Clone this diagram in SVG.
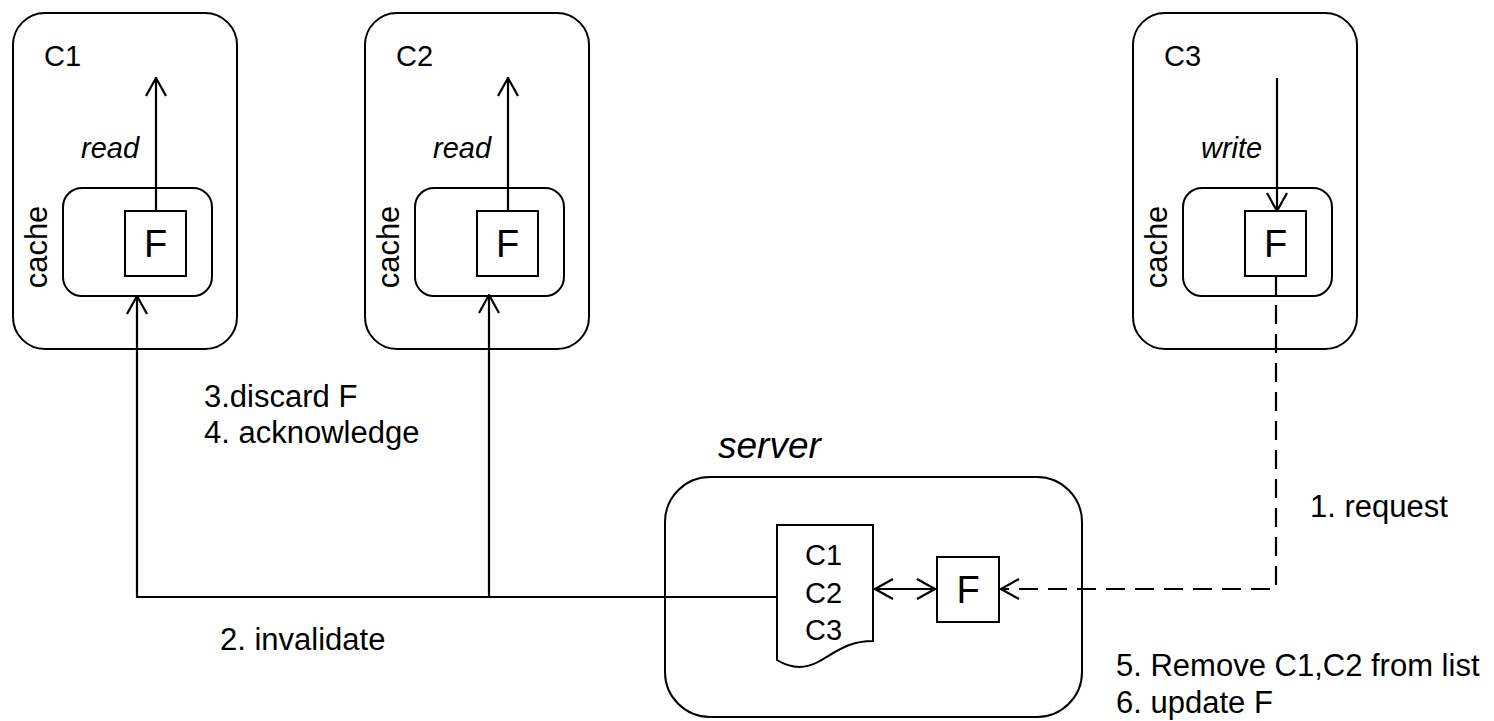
<svg xmlns="http://www.w3.org/2000/svg" width="1494" height="721" viewBox="0 0 1494 721">
<defs>
<style>
.box{fill:#fff;stroke:#000;stroke-width:2}
.ln{fill:none;stroke:#000;stroke-width:2.2}
.dash{fill:none;stroke:#000;stroke-width:2.2;stroke-dasharray:19,10}
.t{font-family:"Liberation Sans",Arial,sans-serif;font-size:29px;fill:#000}
.lb{font-size:31px}
.i{font-style:italic}
.f{font-size:38px;text-anchor:middle}
</style>
<marker id="ah" viewBox="0 0 20 22" refX="19" refY="11" markerWidth="20" markerHeight="22" markerUnits="userSpaceOnUse" orient="auto-start-reverse">
<path d="M1,1 L19,11 L1,21" fill="none" stroke="#000" stroke-width="2.2"/>
</marker>
</defs>
<rect width="1494" height="721" fill="#fff"/>

<g id="c1">
<rect class="box" x="13" y="13" width="224" height="336" rx="32"/>
<text class="t" x="44" y="66">C1</text>
<text class="t i" x="81" y="158">read</text>
<rect class="box" x="63" y="188" width="149" height="108" rx="19"/>
<text class="t lb" transform="translate(47,247) rotate(-90)" text-anchor="middle">cache</text>
<rect class="box" x="125" y="211" width="61" height="65"/>
<text class="t f" x="155.5" y="257">F</text>
</g>

<g id="c2">
<rect class="box" x="365" y="13" width="224" height="336" rx="32"/>
<text class="t" x="396" y="66">C2</text>
<text class="t i" x="433" y="158">read</text>
<rect class="box" x="415" y="188" width="149" height="108" rx="19"/>
<text class="t lb" transform="translate(399,247) rotate(-90)" text-anchor="middle">cache</text>
<rect class="box" x="477" y="211" width="61" height="65"/>
<text class="t f" x="507.5" y="257">F</text>
</g>

<g id="c3">
<rect class="box" x="1133" y="13" width="224" height="336" rx="32"/>
<text class="t" x="1164" y="66">C3</text>
<text class="t i" x="1201" y="158">write</text>
<rect class="box" x="1183" y="188" width="149" height="108" rx="19"/>
<text class="t lb" transform="translate(1167,247) rotate(-90)" text-anchor="middle">cache</text>
<rect class="box" x="1245" y="211" width="61" height="65"/>
<text class="t f" x="1275.5" y="257">F</text>
</g>

<g id="server">
<text class="t i" x="718" y="458" style="font-size:37px">server</text>
<rect class="box" x="665" y="477" width="417" height="240" rx="45"/>
<path class="box" d="M777,525 H873 V641 C848,641 836,652 818,662 C803,670 790,668 777,660 Z"/>
<text class="t" x="805" y="565">C1</text>
<text class="t" x="805" y="603">C2</text>
<text class="t" x="805" y="640">C3</text>
<rect class="box" x="937" y="557" width="62" height="65"/>
<text class="t f" x="968" y="603">F</text>
</g>

<g id="labels">
<text class="t lb" x="204" y="407">3.discard F</text>
<text class="t lb" x="204" y="443">4. acknowledge</text>
<text class="t lb" x="220" y="650">2. invalidate</text>
<text class="t lb" x="1310" y="517">1. request</text>
<text class="t lb" x="1116" y="676">5. Remove C1,C2 from list</text>
<text class="t lb" x="1116" y="713">6. update F</text>
</g>

<g id="connectors">
<line class="ln" x1="156" y1="211" x2="156" y2="78" marker-end="url(#ah)"/>
<line class="ln" x1="508" y1="211" x2="508" y2="78" marker-end="url(#ah)"/>
<line class="ln" x1="1277" y1="78" x2="1277" y2="211" marker-end="url(#ah)"/>
<path class="ln" d="M777,597 H137 V296" marker-end="url(#ah)"/>
<line class="ln" x1="489" y1="597" x2="489" y2="295" marker-end="url(#ah)"/>
<line class="ln" x1="875" y1="589" x2="935" y2="589" marker-start="url(#ah)" marker-end="url(#ah)"/>
<path class="dash" d="M1276,276 V589 H1001" marker-end="url(#ah)"/>
</g>
</svg>
